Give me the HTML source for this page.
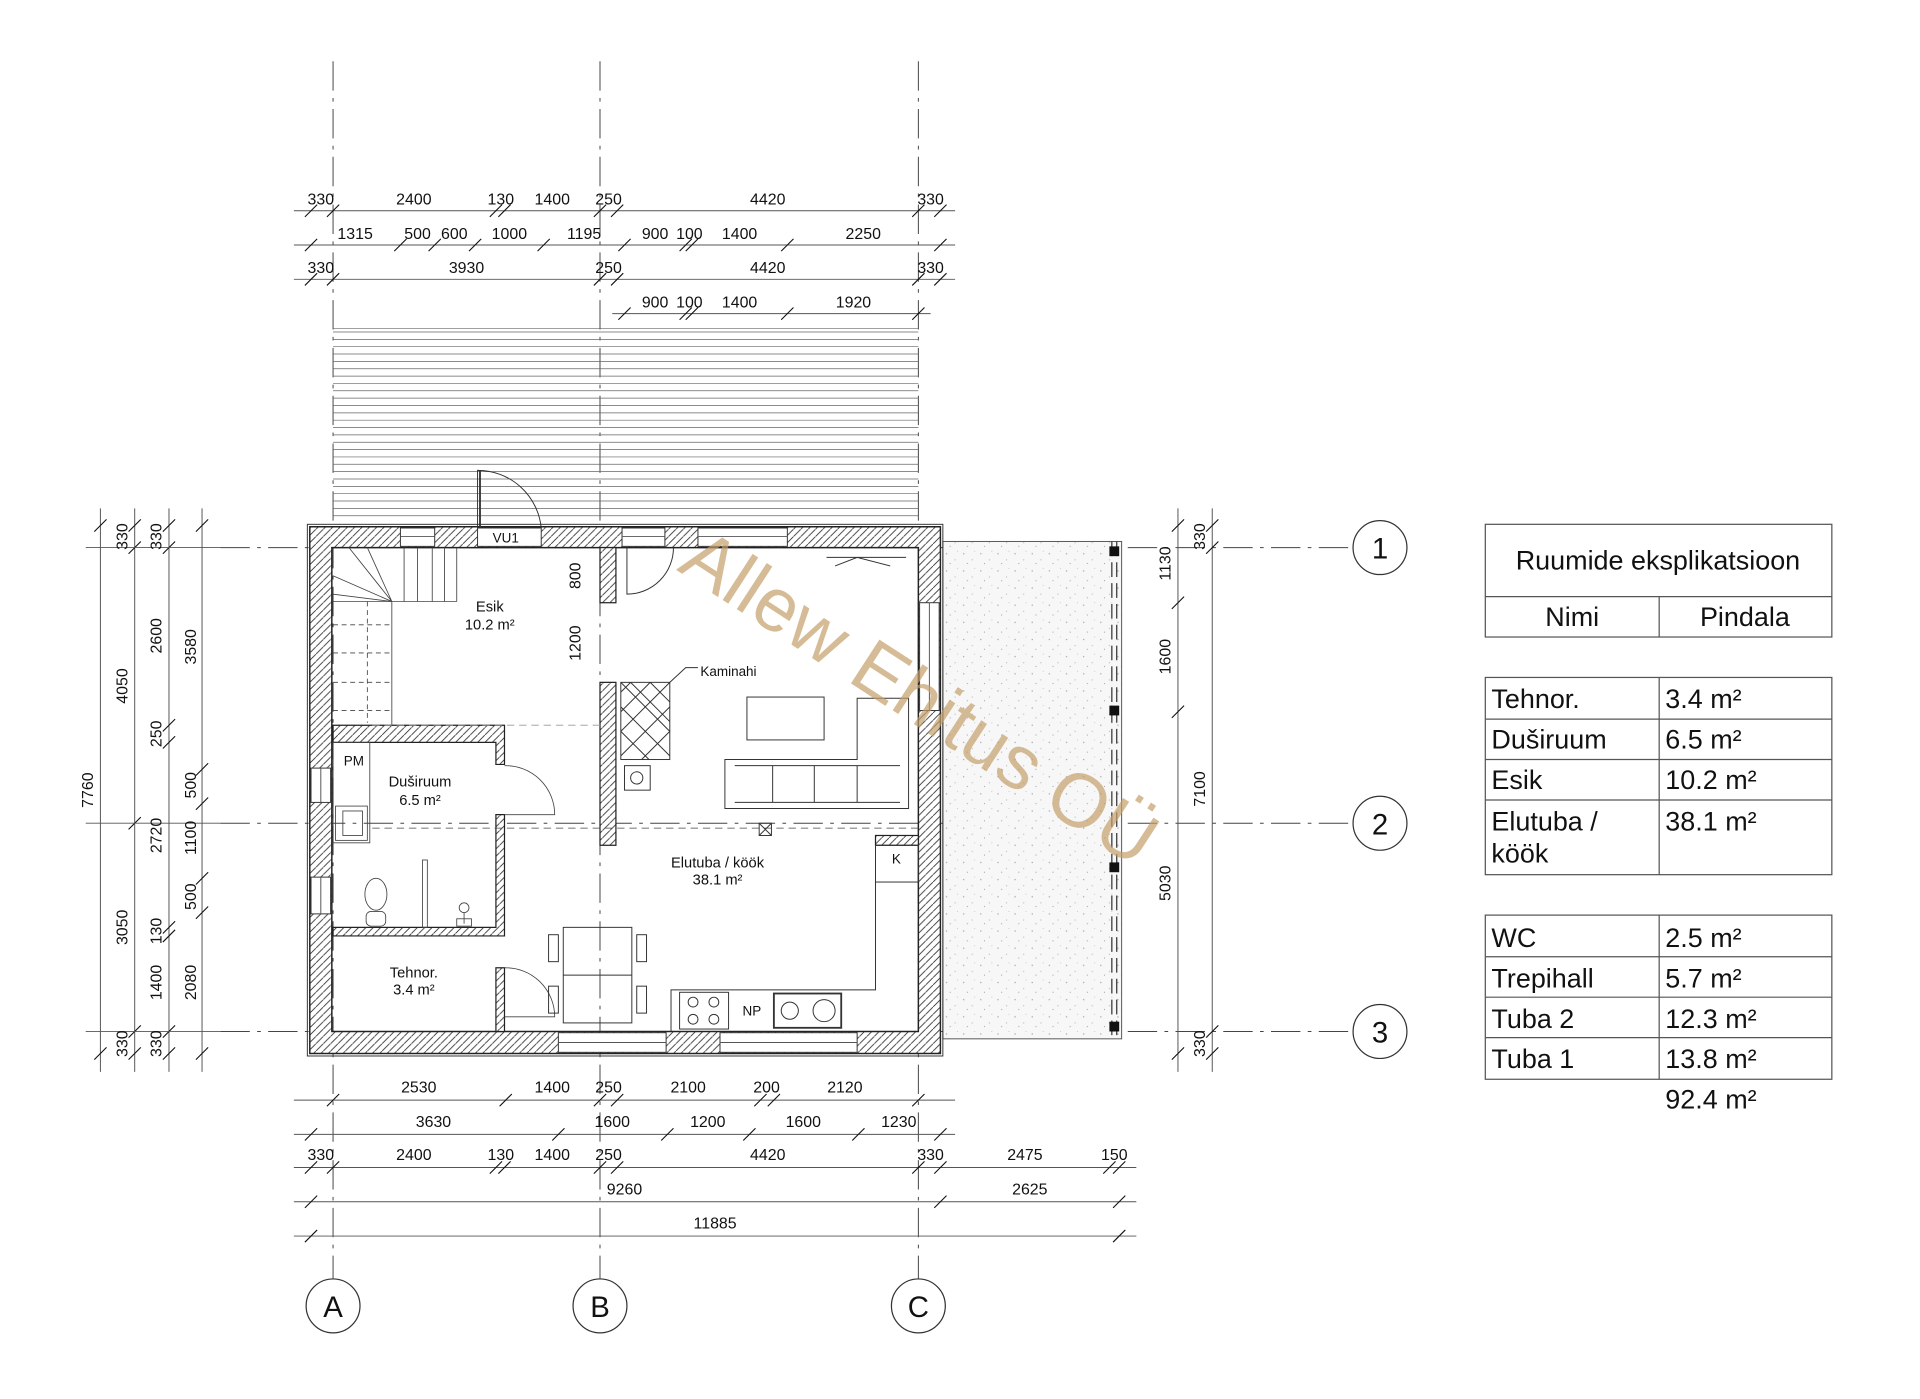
<!DOCTYPE html>
<html><head><meta charset="utf-8"><style>
html,body{margin:0;padding:0;background:#fff}
svg{display:block}
text{font-family:"Liberation Sans",Arial,sans-serif;fill:#111}
</style></head><body>
<svg width="1920" height="1399" viewBox="0 0 1568 1142" preserveAspectRatio="none" xmlns="http://www.w3.org/2000/svg">
<defs>
<pattern id="h" patternUnits="userSpaceOnUse" width="6" height="6"><rect width="6" height="6" fill="#fff"/><path d="M-1,7 L7,-1" stroke="#333" stroke-width="0.7"/></pattern>
<pattern id="st" patternUnits="userSpaceOnUse" width="14" height="14"><rect width="14" height="14" fill="#f7f7f7"/><circle cx="3" cy="4" r="0.6" fill="#aaa"/><circle cx="10" cy="9" r="0.5" fill="#bbb"/><circle cx="6" cy="12" r="0.5" fill="#aaa"/><circle cx="12" cy="2" r="0.4" fill="#bbb"/></pattern>
</defs>

<!-- axes -->
<g stroke="#444" stroke-width="0.8" stroke-dasharray="24,6,3,6" fill="none">
<line x1="272" y1="50" x2="272" y2="1044"/>
<line x1="490" y1="50" x2="490" y2="1044"/>
<line x1="750" y1="50" x2="750" y2="1044"/>
<line x1="180" y1="447" x2="1105" y2="447"/>
<line x1="180" y1="672" x2="1105" y2="672"/>
<line x1="180" y1="842" x2="1105" y2="842"/>
</g>
<g stroke="#333" stroke-width="1" fill="#fff">
<circle cx="272" cy="1066" r="22"/><circle cx="490" cy="1066" r="22"/><circle cx="750" cy="1066" r="22"/>
<circle cx="1127" cy="447" r="22"/><circle cx="1127" cy="672" r="22"/><circle cx="1127" cy="842" r="22"/>
</g>
<g font-size="24" text-anchor="middle">
<text x="272" y="1075">A</text><text x="490" y="1075">B</text><text x="750" y="1075">C</text>
<text x="1127" y="456">1</text><text x="1127" y="681">2</text><text x="1127" y="851">3</text>
</g>

<!-- terrace top -->
<path stroke="#666" stroke-width="0.6" fill="none" d="M272,268H750M272,271H750M272,277H750M272,283H750M272,289H750M272,295H750M272,301H750M272,307H750M272,313H750M272,319H750M272,325H750M272,331H750M272,337H750M272,343H750M272,349H750M272,355H750M272,361H750M272,367H750M272,373H750M272,379H750M272,385H750M272,391H750M272,397H750M272,403H750M272,409H750M272,415H750M272,421H750"/>
<!-- terrace right -->
<rect x="770" y="442" width="146" height="406" fill="url(#st)" stroke="#555" stroke-width="0.8"/>
<line x1="908" y1="442" x2="908" y2="848" stroke="#333" stroke-width="1" stroke-dasharray="12,5"/>
<line x1="912" y1="442" x2="912" y2="848" stroke="#333" stroke-width="1" stroke-dasharray="12,5"/>
<g fill="#111"><rect x="906" y="446" width="8" height="8"/><rect x="906" y="576" width="8" height="8"/><rect x="906" y="704" width="8" height="8"/><rect x="906" y="834" width="8" height="8"/></g>

<!-- dimension lines -->
<g stroke="#555" stroke-width="0.8">
<line x1="240" y1="172" x2="780" y2="172"/><line x1="240" y1="200" x2="780" y2="200"/>
<line x1="240" y1="228" x2="780" y2="228"/><line x1="500" y1="256" x2="760" y2="256"/>
<line x1="240" y1="898" x2="780" y2="898"/><line x1="240" y1="926" x2="780" y2="926"/>
<line x1="240" y1="953" x2="928" y2="953"/><line x1="240" y1="981" x2="928" y2="981"/>
<line x1="240" y1="1009" x2="928" y2="1009"/>
<line x1="82" y1="415" x2="82" y2="875"/><line x1="110" y1="415" x2="110" y2="875"/>
<line x1="138" y1="415" x2="138" y2="875"/><line x1="165" y1="415" x2="165" y2="875"/>
<line x1="962" y1="415" x2="962" y2="875"/><line x1="990" y1="415" x2="990" y2="875"/>
</g>
<g stroke="#111" stroke-width="0.9">
<path d="M249,177l10,-10M267,177l10,-10M400,177l10,-10M407,177l10,-10M485,177l10,-10M499,177l10,-10M745,177l10,-10M763,177l10,-10"/>
<path d="M249,205l10,-10M322,205l10,-10M350,205l10,-10M383,205l10,-10M439,205l10,-10M505,205l10,-10M555,205l10,-10M560,205l10,-10M638,205l10,-10M763,205l10,-10"/>
<path d="M249,233l10,-10M267,233l10,-10M485,233l10,-10M499,233l10,-10M745,233l10,-10M763,233l10,-10"/>
<path d="M505,261l10,-10M555,261l10,-10M560,261l10,-10M638,261l10,-10M745,261l10,-10"/>
<path d="M267,903l10,-10M408,903l10,-10M485,903l10,-10M499,903l10,-10M616,903l10,-10M627,903l10,-10M745,903l10,-10"/>
<path d="M249,931l10,-10M451,931l10,-10M540,931l10,-10M607,931l10,-10M696,931l10,-10M763,931l10,-10"/>
<path d="M249,958l10,-10M267,958l10,-10M400,958l10,-10M407,958l10,-10M485,958l10,-10M499,958l10,-10M745,958l10,-10M763,958l10,-10M901,958l10,-10M909,958l10,-10"/>
<path d="M249,986l10,-10M763,986l10,-10M909,986l10,-10"/>
<path d="M249,1014l10,-10M909,1014l10,-10"/>
<path d="M77,434l10,-10M77,865l10,-10"/>
<path d="M105,434l10,-10M105,452l10,-10M105,677l10,-10M105,847l10,-10M105,865l10,-10"/>
<path d="M133,434l10,-10M133,452l10,-10M133,597l10,-10M133,611l10,-10M133,762l10,-10M133,769l10,-10M133,847l10,-10M133,865l10,-10"/>
<path d="M160,434l10,-10M160,633l10,-10M160,661l10,-10M160,722l10,-10M160,750l10,-10M160,865l10,-10"/>
<path d="M957,434l10,-10M957,497l10,-10M957,586l10,-10M957,865l10,-10"/>
<path d="M985,434l10,-10M985,452l10,-10M985,847l10,-10M985,865l10,-10"/>
</g>
<g stroke="#555" stroke-width="0.7">
<line x1="70" y1="447" x2="180" y2="447"/><line x1="70" y1="672" x2="180" y2="672"/><line x1="70" y1="842" x2="180" y2="842"/>
</g>

<g font-size="13" text-anchor="middle">
<text x="262" y="167">330</text><text x="338" y="167">2400</text><text x="409" y="167">130</text><text x="451" y="167">1400</text><text x="497" y="167">250</text><text x="627" y="167">4420</text><text x="760" y="167">330</text>
<text x="290" y="195">1315</text><text x="341" y="195">500</text><text x="371" y="195">600</text><text x="416" y="195">1000</text><text x="477" y="195">1195</text><text x="535" y="195">900</text><text x="563" y="195">100</text><text x="604" y="195">1400</text><text x="705" y="195">2250</text>
<text x="262" y="223">330</text><text x="381" y="223">3930</text><text x="497" y="223">250</text><text x="627" y="223">4420</text><text x="760" y="223">330</text>
<text x="535" y="251">900</text><text x="563" y="251">100</text><text x="604" y="251">1400</text><text x="697" y="251">1920</text>
<text x="342" y="892">2530</text><text x="451" y="892">1400</text><text x="497" y="892">250</text><text x="562" y="892">2100</text><text x="626" y="892">200</text><text x="690" y="892">2120</text>
<text x="354" y="920">3630</text><text x="500" y="920">1600</text><text x="578" y="920">1200</text><text x="656" y="920">1600</text><text x="734" y="920">1230</text>
<text x="262" y="947">330</text><text x="338" y="947">2400</text><text x="409" y="947">130</text><text x="451" y="947">1400</text><text x="497" y="947">250</text><text x="627" y="947">4420</text><text x="760" y="947">330</text><text x="837" y="947">2475</text><text x="910" y="947">150</text>
<text x="510" y="975">9260</text><text x="841" y="975">2625</text>
<text x="584" y="1003">11885</text>
</g>
<g font-size="13" text-anchor="middle">
<text transform="translate(76,645) rotate(-90)">7760</text>
<text transform="translate(104,438) rotate(-90)">330</text><text transform="translate(104,560) rotate(-90)">4050</text><text transform="translate(104,757) rotate(-90)">3050</text><text transform="translate(104,852) rotate(-90)">330</text>
<text transform="translate(132,438) rotate(-90)">330</text><text transform="translate(132,519) rotate(-90)">2600</text><text transform="translate(132,599) rotate(-90)">250</text><text transform="translate(132,682) rotate(-90)">2720</text><text transform="translate(132,760) rotate(-90)">130</text><text transform="translate(132,802) rotate(-90)">1400</text><text transform="translate(132,852) rotate(-90)">330</text>
<text transform="translate(160,528) rotate(-90)">3580</text><text transform="translate(160,641) rotate(-90)">500</text><text transform="translate(160,684) rotate(-90)">1100</text><text transform="translate(160,732) rotate(-90)">500</text><text transform="translate(160,802) rotate(-90)">2080</text>
<text transform="translate(956,460) rotate(-90)">1130</text><text transform="translate(956,536) rotate(-90)">1600</text><text transform="translate(956,721) rotate(-90)">5030</text>
<text transform="translate(984,438) rotate(-90)">330</text><text transform="translate(984,644) rotate(-90)">7100</text><text transform="translate(984,852) rotate(-90)">330</text>
<text transform="translate(474,470) rotate(-90)">800</text><text transform="translate(474,525) rotate(-90)">1200</text>
</g>

<!-- outer walls -->
<path fill-rule="evenodd" fill="url(#h)" stroke="#222" stroke-width="1.2" d="M253,430H768V860H253Z M271,447H750V842H271Z"/>
<rect x="251" y="428" width="519" height="434" fill="none" stroke="#333" stroke-width="0.8"/>
<g fill="#fff" stroke="#333" stroke-width="0.8">
<rect x="327" y="431" width="28" height="15"/><rect x="390" y="431" width="52" height="15"/>
<rect x="508" y="431" width="35" height="15"/><rect x="570" y="431" width="73" height="15"/>
<rect x="254" y="627" width="16" height="28"/><rect x="254" y="716" width="16" height="30"/>
<rect x="751" y="492" width="16" height="88"/>
<rect x="456" y="843" width="88" height="16"/><rect x="588" y="843" width="112" height="16"/>
</g>
<g stroke="#555" stroke-width="0.8">
<line x1="327" y1="438" x2="355" y2="438"/><line x1="508" y1="438" x2="543" y2="438"/><line x1="570" y1="438" x2="643" y2="438"/>
<line x1="262" y1="627" x2="262" y2="655"/><line x1="262" y1="716" x2="262" y2="746"/><line x1="759" y1="492" x2="759" y2="580"/>
<line x1="456" y1="851" x2="544" y2="851"/><line x1="588" y1="851" x2="700" y2="851"/>
</g>
<text x="413" y="443" font-size="11" text-anchor="middle">VU1</text>
<path d="M390,431V384A52,52 0 0 1 442,431" fill="none" stroke="#333" stroke-width="0.8"/>
<line x1="392" y1="384" x2="392" y2="431" stroke="#333" stroke-width="1.5"/>
<path d="M512,447V485A38,38 0 0 0 550,447" fill="none" stroke="#333" stroke-width="0.8"/>

<g fill="url(#h)" stroke="#222" stroke-width="1">
<path d="M272,592H412V624H405V606H272Z"/>
<path d="M405,665H412V764H272V757H405Z"/>
<rect x="405" y="790" width="7" height="52"/>
<rect x="490" y="447" width="13" height="45"/>
<rect x="490" y="557" width="13" height="133"/>
<rect x="715" y="682" width="35" height="8"/>
</g>
<g stroke="#444" stroke-width="0.7" fill="none">
<line x1="272" y1="491" x2="320" y2="491"/><line x1="320" y1="491" x2="320" y2="592"/>
<line x1="320" y1="491" x2="373" y2="491"/><line x1="373" y1="447" x2="373" y2="491"/>
<path d="M330,447V491M341,447V491M353,447V491M363,447V491"/>
<path d="M272,470L320,491M285,447L320,491M300,447L320,491M272,485L320,491"/>
<g stroke-dasharray="4,3"><path d="M272,510H320M272,533H320M272,557H320M272,580H320M300,491L300,590"/></g>
</g>
<g stroke="#444" stroke-width="0.7" fill="none">
<rect x="272" y="606" width="30" height="82"/>
<rect x="274" y="658" width="26" height="28"/><rect x="280" y="662" width="16" height="20"/>
<line x1="304" y1="676" x2="750" y2="676" stroke-dasharray="6,4"/>
<line x1="304" y1="592" x2="490" y2="592" stroke-dasharray="6,4" stroke="#999"/>
<ellipse cx="307" cy="730" rx="9" ry="13"/><rect x="299" y="744" width="16" height="12" rx="4"/>
<rect x="345" y="702" width="4" height="55"/>
<circle cx="379" cy="741" r="4"/><line x1="379" y1="745" x2="379" y2="754"/><rect x="373" y="750" width="12" height="6"/>
<path d="M412,625A40,40 0 0 1 453,665H412"/>
<path d="M412,790A40,40 0 0 1 453,830H412"/>
</g>
<g stroke="#333" stroke-width="0.8" fill="none">
<rect x="507" y="557" width="40" height="63"/>
<path d="M507,557L547,597M507,577L547,617M507,597L530,620M515,557L547,589M531,557L547,573M547,557L507,597M547,577L507,617M547,597L524,620M531,557L507,581M515,557L507,565"/>
<rect x="510" y="625" width="21" height="20"/><circle cx="520" cy="635" r="5"/>
<path d="M547,557L560,545H570"/>
</g>
<text x="572" y="552" font-size="11">Kaminahi</text>
<g stroke="#333" stroke-width="0.8" fill="none">
<rect x="610" y="569" width="63" height="35"/>
<path d="M592,620H700V570H742V660H592Z"/>
<path d="M600,625H735M600,655H735"/>
<path d="M631,625V655M665,625V655M700,625V655"/>
<path d="M675,455H740M682,462L700,455L727,462"/>
<rect x="620" y="672" width="10" height="10"/><path d="M620,672L630,682M630,672L620,682"/>
<path d="M715,690V808H548V842"/><rect x="715" y="690" width="35" height="30"/>
<rect x="555" y="810" width="40" height="30"/>
<circle cx="566" cy="818" r="4"/><circle cx="583" cy="818" r="4"/><circle cx="566" cy="832" r="4"/><circle cx="583" cy="832" r="4"/>
<rect x="632" y="811" width="55" height="28" stroke-width="1.5"/><circle cx="645" cy="825" r="7"/><circle cx="673" cy="825" r="9"/>
<rect x="460" y="757" width="56" height="78"/><line x1="460" y1="796" x2="516" y2="796"/>
<rect x="448" y="763" width="8" height="22"/><rect x="448" y="805" width="8" height="22"/>
<rect x="520" y="763" width="8" height="22"/><rect x="520" y="805" width="8" height="22"/>
</g>
<g font-size="12" text-anchor="middle">
<text x="400" y="499">Esik</text><text x="400" y="514">10.2 m²</text>
<text x="289" y="625" font-size="11">PM</text>
<text x="343" y="642">Duširuum</text><text x="343" y="657">6.5 m²</text>
<text x="586" y="708">Elutuba / köök</text><text x="586" y="722">38.1 m²</text>
<text x="732" y="705" font-size="11">K</text><text x="614" y="829" font-size="11">NP</text>
<text x="338" y="798">Tehnor.</text><text x="338" y="812">3.4 m²</text>
</g>

<text transform="translate(552,465) rotate(33)" font-size="62" style="fill:#c4a06a;fill-opacity:0.7">Allew Ehitus OÜ</text>

<g stroke="#555" stroke-width="1" fill="none">
<rect x="1213" y="428" width="283" height="92"/><line x1="1213" y1="487" x2="1496" y2="487"/><line x1="1355" y1="487" x2="1355" y2="520"/>
<rect x="1213" y="553" width="283" height="161"/><path d="M1213,587H1496M1213,620H1496M1213,653H1496M1355,553V714"/>
<rect x="1213" y="747" width="283" height="134"/><path d="M1213,781H1496M1213,814H1496M1213,847H1496M1355,747V881"/>
</g>
<g font-size="22">
<text x="1354" y="465" text-anchor="middle">Ruumide eksplikatsioon</text>
<text x="1284" y="511" text-anchor="middle">Nimi</text><text x="1425" y="511" text-anchor="middle">Pindala</text>
<text x="1218" y="578">Tehnor.</text><text x="1360" y="578">3.4 m²</text>
<text x="1218" y="611">Duširuum</text><text x="1360" y="611">6.5 m²</text>
<text x="1218" y="644">Esik</text><text x="1360" y="644">10.2 m²</text>
<text x="1218" y="678">Elutuba /</text><text x="1218" y="704">köök</text><text x="1360" y="678">38.1 m²</text>
<text x="1218" y="773">WC</text><text x="1360" y="773">2.5 m²</text>
<text x="1218" y="806">Trepihall</text><text x="1360" y="806">5.7 m²</text>
<text x="1218" y="839">Tuba 2</text><text x="1360" y="839">12.3 m²</text>
<text x="1218" y="872">Tuba 1</text><text x="1360" y="872">13.8 m²</text>
<text x="1360" y="905">92.4 m²</text>
</g>
</svg>
</body></html>
